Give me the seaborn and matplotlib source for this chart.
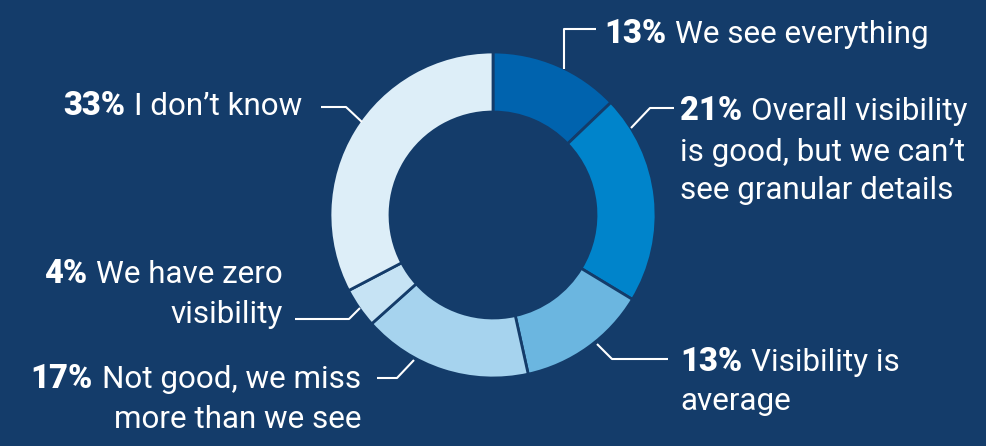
import matplotlib
matplotlib.use("Agg")
import matplotlib.pyplot as plt
import seaborn as sns

# Survey answers, clockwise from 12 o'clock
pcts = [13, 21, 13, 17, 4, 33]
pct_labels = ["13%", "21%", "13%", "17%", "4%", "33%"]
answers = [
    ["We see everything"],
    ["Overall visibility", "is good, but we can\u2019t", "see granular details"],
    ["Visibility is", "average"],
    ["Not good, we miss", "more than we see"],
    ["We have zero", "visibility"],
    ["I don\u2019t know"],
]
colors = ["#0063ae", "#0084cb", "#6bb6e0", "#a6d3ee", "#c6e3f4", "#ddeef8"]

BG = "#143c6a"
FONT = "Roboto"
FS = 22.6
FS_BOLD = 23.5

sns.set_theme(style="white")
plt.rcParams["font.family"] = [FONT, "DejaVu Sans"]

W, H = 986, 446
fig = plt.figure(figsize=(W / 100, H / 100), dpi=100, facecolor=BG)
ax = fig.add_axes([0, 0, 1, 1])
ax.set_facecolor(BG)

cx, cy, R, ring = 493, 215, 163, 60
ax.pie(pcts, colors=colors, center=(cx, cy), radius=R,
       startangle=-90, counterclock=True,
       wedgeprops=dict(width=ring, edgecolor=BG, linewidth=2.0))
ax.set_xlim(0, W)
ax.set_ylim(H, 0)
ax.set_aspect("equal")
ax.axis("off")

renderer = fig.canvas.get_renderer()

# label layout: anchor x, baselines, alignment, leader polyline
layout = [
    dict(x=604, ys=[43], ha="left", lead=[(564, 69), (564, 29), (596, 29)]),
    dict(x=680, ys=[120, 161, 199], ha="left", lead=[(631, 128), (650, 108), (674, 108)]),
    dict(x=680, ys=[371, 410], ha="left", lead=[(597, 344), (612, 359), (668, 359)]),
    dict(x=361, ys=[388, 428], ha="right", lead=[(414, 360), (397, 378), (377, 378)]),
    dict(x=283, ys=[283, 323], ha="right", lead=[(360, 308), (349, 319), (295, 319)]),
    dict(x=302, ys=[115], ha="right", lead=[(362, 122), (346, 107), (321, 107)]),
]

gap = 9
for pct, lines, lay in zip(pct_labels, answers, layout):
    xs, ys = zip(*lay["lead"])
    ax.plot(xs, ys, color="white", lw=1.5, solid_capstyle="butt")
    x = lay["x"]
    if lay["ha"] == "left":
        b = ax.text(x, lay["ys"][0], pct, color="white", fontsize=FS_BOLD,
                    fontweight="heavy", ha="left", va="baseline")
        bw = b.get_window_extent(renderer).width
        ax.text(x + bw + gap, lay["ys"][0], lines[0], color="white",
                fontsize=FS, ha="left", va="baseline")
    else:
        t = ax.text(x, lay["ys"][0], lines[0], color="white", fontsize=FS,
                    ha="right", va="baseline")
        tw = t.get_window_extent(renderer).width
        ax.text(x - tw - gap, lay["ys"][0], pct, color="white",
                fontsize=FS_BOLD, fontweight="heavy", ha="right",
                va="baseline")
    for line, y in zip(lines[1:], lay["ys"][1:]):
        ax.text(x, y, line, color="white", fontsize=FS, ha=lay["ha"],
                va="baseline")

fig.savefig("out.png", dpi=100, facecolor=BG)
